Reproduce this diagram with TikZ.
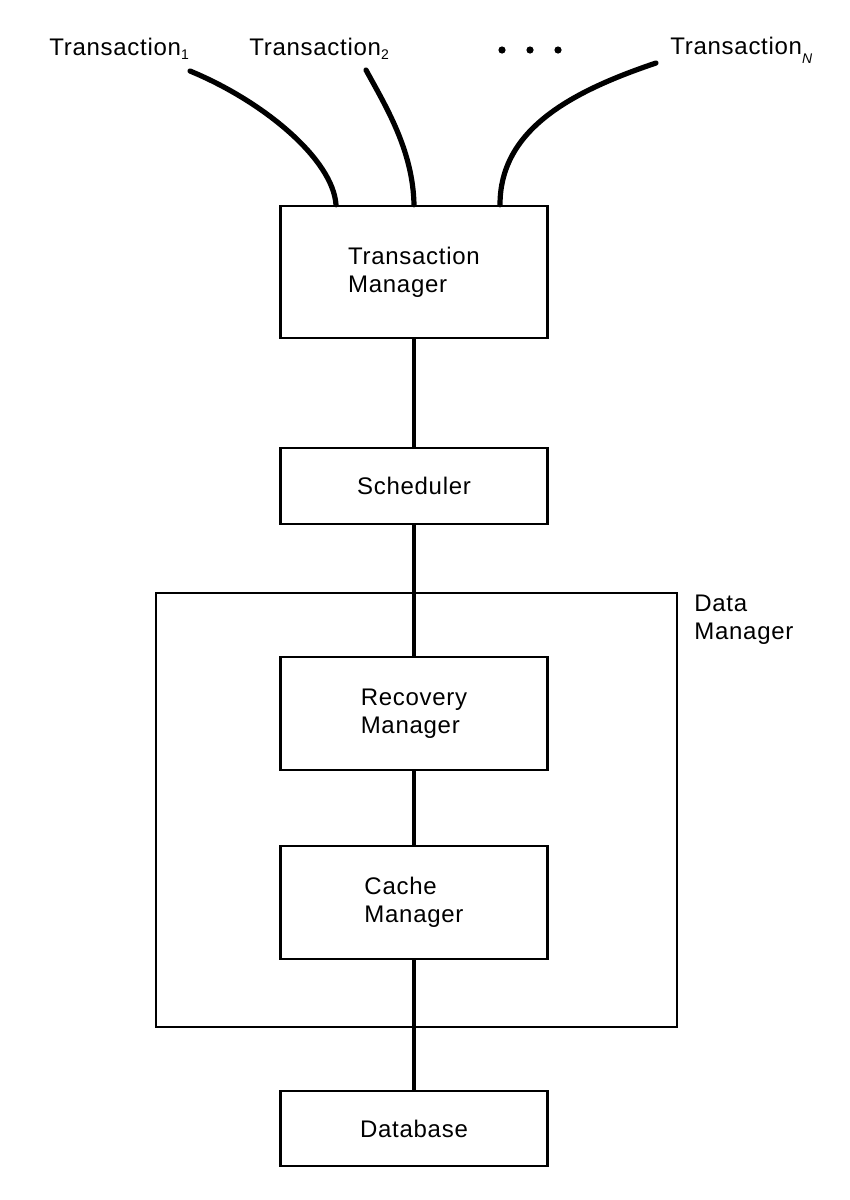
\documentclass[tikz,border=0pt]{standalone}
\usepackage{fontspec}
\setmainfont{Liberation Sans}[LetterSpace=3]
\usepackage{tikz}
\usetikzlibrary{positioning}

\begin{document}
\begin{tikzpicture}[x=0.5pt,y=-0.5pt,
  font=\fontsize{12}{14}\selectfont,
  unit/.style={draw,line width=1.2pt,minimum width=133.5pt,align=left,inner sep=0pt},
  link/.style={line width=2.2pt},
  wire/.style={line width=2.6pt,line cap=round},
  tag/.style={inner sep=0pt,align=left}]
  \useasboundingbox (0,0) rectangle (850,1200);
  % the transactions
  \node[tag,anchor=base west] (tr1) at (49,55) {Transaction\raisebox{-2pt}{\scriptsize 1}};
  \node[tag,anchor=base west] (tr2) at (249,55) {Transaction\raisebox{-2pt}{\scriptsize 2}};
  \node[tag,anchor=base west] (trn) at (670,54) {Transaction\raisebox{-4.5pt}{\scriptsize\itshape N}};
  \foreach \x in {502,530,558}{\fill (\x,50) circle (1.8pt);}
  % the modules
  \node[unit,minimum height=66pt] (tm) at (414,272) {Transaction\\Manager};
  \node[unit,minimum height=38pt] (sch) at (414,486) {Scheduler};
  \node[draw,line width=1.2pt,minimum width=260.5pt,minimum height=217pt] (dm) at (416.5,810) {};
  \node[tag,anchor=north west] (dmlabel) at (694,595) {Data\\Manager};
  \node[unit,minimum height=56.5pt] (rm) at (414,713.5) {Recovery\\Manager};
  \node[unit,minimum height=56.5pt] (cm) at (414,902.5) {Cache\\Manager};
  \node[unit,minimum height=37.5pt] (db) at (414,1128.5) {Database};
  % free ends of the transaction wires
  \coordinate (w1) at (190,71);
  \coordinate (w2) at (366,70);
  \coordinate (wn) at (656,63);
  \draw[wire] (w1) .. controls (265,102) and (333,160) .. ([xshift=-39pt]tm.north);
  \draw[wire] (w2) .. controls (385,105) and (413,150) .. (tm.north);
  \draw[wire] (wn) .. controls (570,92) and (500,130) .. ([xshift=43pt]tm.north);
  % the chain of modules
  \draw[link] (tm) -- (sch);
  \draw[link] (sch) -- (rm);
  \draw[link] (rm) -- (cm);
  \draw[link] (cm) -- (db);
\end{tikzpicture}
\end{document}
